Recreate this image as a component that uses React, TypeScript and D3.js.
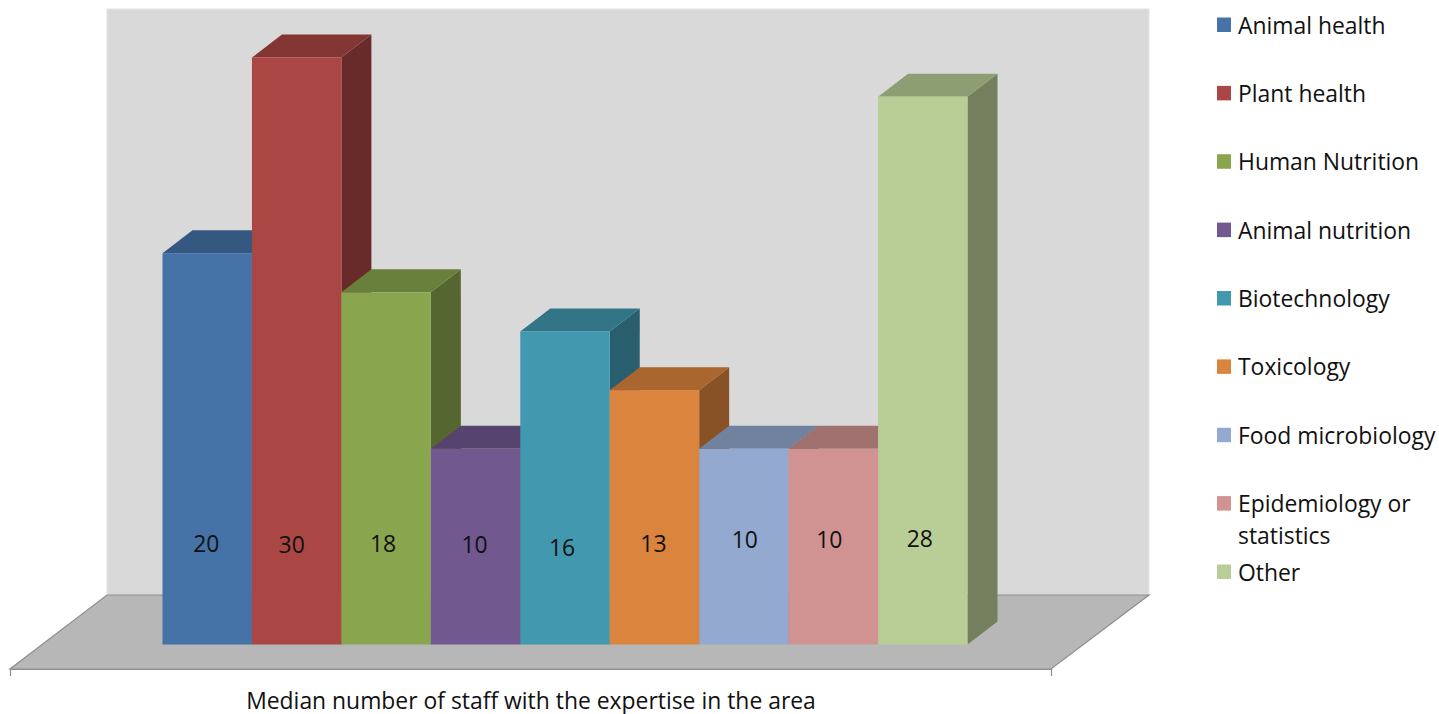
import React, { useEffect, useRef } from 'react';
import * as d3 from 'd3';

const categories = [
  'Animal health',
  'Plant health',
  'Human Nutrition',
  'Animal nutrition',
  'Biotechnology',
  'Toxicology',
  'Food microbiology',
  'Epidemiology or statistics',
  'Other',
];
const values = [20, 30, 18, 10, 16, 13, 10, 10, 28];
const colors = ['#4572A7', '#AA4643', '#89A54E', '#71588F', '#4198AF', '#DB843D', '#93A9CF', '#D19392', '#B9CD96'];
const axisTitle = 'Median number of staff with the expertise in the area';

// labels in the original are not quite centred, nudges in px
const labelDx = [-1, -5, -3, -1, -3, -1, 1, -4, -3];
const labelDy = [-1, 0, -1, 0, 3, -1, -5, -5, -6];

const FONT = '"Open Sans", sans-serif';
const FONT_SIZE = 22.9;

const shade = (color: string, k: number) => {
  const c = d3.rgb(color);
  return d3.rgb(c.r * k, c.g * k, c.b * k).formatHex();
};

const App: React.FC = () => {
  const ref = useRef<SVGSVGElement>(null);

  useEffect(() => {
    if (!ref.current) return;
    const svg = d3.select(ref.current);
    svg.selectAll('*').remove();

    // 3D depth of the bars
    const depthX = 30;
    const depthY = 23;

    const x = d3.scaleBand<string>().domain(categories).range([162.5, 967.5]).padding(0);
    const y = d3.scaleLinear().domain([0, 30]).range([644.5, 57.5]);
    const line = d3.line();

    // back wall
    svg.append('rect')
      .attr('x', 107).attr('y', 9)
      .attr('width', 1042).attr('height', 586)
      .attr('fill', '#d9d9d9')
      .attr('stroke', '#e4e4e4')
      .attr('stroke-width', 1);

    // floor
    svg.append('path')
      .attr('d', line([[107, 595], [1149, 595], [1051, 669], [10, 669]]) + 'Z')
      .attr('fill', '#b7b7b7')
      .attr('stroke', '#8e8e8e')
      .attr('stroke-width', 1.2);

    // axis line below the floor
    const axisScale = d3.scaleBand<string>().domain(['']).range([10, 1051]);
    svg.append('g')
      .attr('transform', 'translate(0,669)')
      .call(d3.axisBottom(axisScale).tickSize(0).tickSizeOuter(7).tickFormat(() => ''))
      .call(g => g.select('.domain').attr('stroke', '#8e8e8e').attr('stroke-width', 1.2));

    svg.append('text')
      .attr('x', 531).attr('y', 700)
      .attr('text-anchor', 'middle')
      .attr('dominant-baseline', 'central')
      .attr('font-family', FONT)
      .attr('font-size', FONT_SIZE)
      .attr('fill', '#111')
      .text(axisTitle);

    // bars, left to right so every bar covers its left neighbour
    categories.forEach((name, i) => {
      const x0 = x(name)!;
      const x1 = x0 + x.bandwidth();
      const top = y(values[i]);
      const base = y(0);
      const color = colors[i];
      const g = svg.append('g');

      g.append('path')
        .attr('d', line([[x1, top], [x1 + depthX, top - depthY], [x1 + depthX, base - depthY], [x1, base]]) + 'Z')
        .attr('fill', shade(color, 0.62));

      g.append('path')
        .attr('d', line([[x0, top], [x0 + depthX, top - depthY], [x1 + depthX, top - depthY], [x1, top]]) + 'Z')
        .attr('fill', shade(color, 0.77));

      g.append('rect')
        .attr('x', x0).attr('y', top)
        .attr('width', x.bandwidth()).attr('height', base - top)
        .attr('fill', color);
    });

    // value labels
    categories.forEach((name, i) => {
      svg.append('text')
        .attr('x', x(name)! + x.bandwidth() / 2 + labelDx[i])
        .attr('y', 544 + labelDy[i])
        .attr('text-anchor', 'middle')
        .attr('dominant-baseline', 'central')
        .attr('font-family', FONT)
        .attr('font-size', FONT_SIZE)
        .attr('fill', '#111')
        .text(values[i]);
    });

    // legend
    const legendY = d3.scalePoint<string>().domain(categories).range([25, 572]);
    categories.forEach((name, i) => {
      const ly = legendY(name)!;
      svg.append('rect')
        .attr('x', 1217).attr('y', ly - 7.5)
        .attr('width', 14).attr('height', 14.5)
        .attr('fill', colors[i]);

      // the long entry wraps on two lines
      const lines = name === 'Epidemiology or statistics' ? ['Epidemiology or', 'statistics'] : [name];
      lines.forEach((t, j) => {
        svg.append('text')
          .attr('x', 1238)
          .attr('y', ly + j * 32)
          .attr('dominant-baseline', 'central')
          .attr('font-family', FONT)
          .attr('font-size', FONT_SIZE)
          .attr('fill', '#111')
          .text(t);
      });
    });
  }, []);

  return (
    <div style={{ position: 'absolute', left: 0, top: 0, background: '#fff' }}>
      <svg ref={ref} width={1439} height={714} style={{ display: 'block' }} />
    </div>
  );
};

export default App;
